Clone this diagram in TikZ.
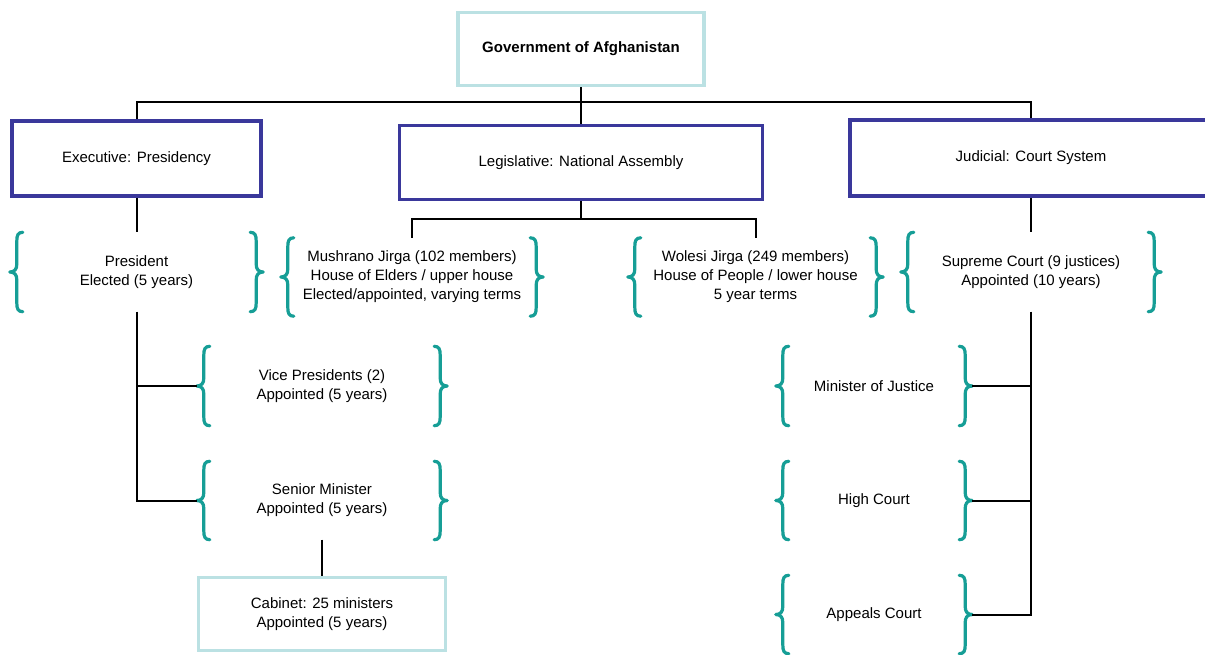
\documentclass[tikz,border=0pt]{standalone}
\usepackage{fontspec}
\setmainfont{Liberation Sans}
\usetikzlibrary{calc}
\definecolor{boxblue}{RGB}{58,56,155}
\definecolor{lightteal}{RGB}{187,225,227}
\definecolor{braceteal}{RGB}{22,158,150}
\newcommand\leftbr[1]{%
  \draw[bracestyle] ($(#1.north west)+(13,0)$) .. controls ($(#1.north west)+(8,0)$) and ($(#1.north west)+(7,3)$) .. ($(#1.north west)+(7,9)$)
    -- ($(#1.west)+(7,-8)$) .. controls ($(#1.west)+(7,-3)$) and ($(#1.west)+(5,0)$) .. (#1.west)
    .. controls ($(#1.west)+(5,0)$) and ($(#1.west)+(7,3)$) .. ($(#1.west)+(7,8)$)
    -- ($(#1.south west)+(7,-9)$) .. controls ($(#1.south west)+(7,-3)$) and ($(#1.south west)+(8,0)$) .. ($(#1.south west)+(13,0)$);}
\newcommand\rightbr[1]{%
  \draw[bracestyle] ($(#1.north east)+(-13,0)$) .. controls ($(#1.north east)+(-8,0)$) and ($(#1.north east)+(-7,3)$) .. ($(#1.north east)+(-7,9)$)
    -- ($(#1.east)+(-7,-8)$) .. controls ($(#1.east)+(-7,-3)$) and ($(#1.east)+(-5,0)$) .. (#1.east)
    .. controls ($(#1.east)+(-5,0)$) and ($(#1.east)+(-7,3)$) .. ($(#1.east)+(-7,8)$)
    -- ($(#1.south east)+(-7,-9)$) .. controls ($(#1.south east)+(-7,-3)$) and ($(#1.south east)+(-8,0)$) .. ($(#1.south east)+(-13,0)$);}
\begin{document}
\begin{tikzpicture}[x=1pt,y=-1pt,
  every node/.style={font=\fontsize{15}{19}\selectfont, align=center, inner sep=0pt},
  bluebox/.style={draw=boxblue, line width=3.5pt, rectangle},
  tealbox/.style={draw=lightteal, line width=3.5pt, rectangle},
  group/.style={rectangle},
  bracestyle/.style={draw=braceteal, line width=3.2pt, line cap=round, line join=round},
  conn/.style={draw=black, line width=2pt}]
\useasboundingbox (0,0) rectangle (1205,654);
\fill[white] (0,0) rectangle (1205,654);

% top boxes
\node[tealbox, minimum width=246pt, minimum height=73pt] (gov) at (581,49) {\textbf{Government of Afghanistan}};
\node[bluebox, minimum width=249pt, minimum height=75pt] (exec) at (136.5,158.5) {Executive: Presidency};
\node[bluebox, minimum width=363pt, minimum height=74pt] (leg) at (581,162.5) {Legislative: National Assembly};
\node[bluebox, minimum width=362pt, minimum height=76pt] (jud) at (1031,158) {Judicial: Court System};

% brace groups
\node[group, minimum width=253pt, minimum height=79pt] (pres) at (136.5,272) {President\\Elected (5 years)};
\node[group, minimum width=262pt, minimum height=78pt] (mush) at (412,277) {Mushrano Jirga (102 members)\\House of Elders / upper house\\Elected/appointed, varying terms};
\node[group, minimum width=255pt, minimum height=78pt] (wol) at (755.5,277) {Wolesi Jirga (249 members)\\House of People / lower house\\5 year terms};
\node[group, minimum width=260pt, minimum height=79pt] (sup) at (1031,272) {Supreme Court (9 justices)\\Appointed (10 years)};
\node[group, minimum width=250pt, minimum height=79pt] (vp) at (322,386) {Vice Presidents (2)\\Appointed (5 years)};
\node[group, minimum width=250pt, minimum height=78pt] (sen) at (322,500.5) {Senior Minister\\Appointed (5 years)};
\node[group, minimum width=196pt, minimum height=79pt] (moj) at (874,386) {Minister of Justice};
\node[group, minimum width=196pt, minimum height=78pt] (high) at (874,500.5) {High Court};
\node[group, minimum width=196pt, minimum height=78pt] (app) at (874,614.5) {Appeals Court};

\node[tealbox, minimum width=247pt, minimum height=73pt] (cab) at (322,614) {Cabinet: 25 ministers\\Appointed (5 years)};

\foreach \n in {pres,mush,wol,sup,vp,sen,moj,high,app}{\leftbr{\n}\rightbr{\n}}

% connectors
\coordinate (bus) at (581,102);
\coordinate (lbus) at (581,219);
\draw[conn] (gov.south) -- (leg.north);
\draw[conn] (exec.north) -- (exec.north |- bus) -- (jud.north |- bus) -- (jud.north);
\draw[conn] (exec.south) -- (pres.north);
\draw[conn] (pres.south) |- (sen.west);
\draw[conn] (pres.south |- vp.west) -- (vp.west);
\draw[conn] (sen.south) -- (cab.north);
\draw[conn] (leg.south) -- (lbus);
\draw[conn] (mush.north) -- (mush.north |- lbus) -- (wol.north |- lbus) -- (wol.north);
\draw[conn] (jud.south) -- (sup.north);
\draw[conn] (sup.south) |- (app.east);
\draw[conn] (sup.south |- moj.east) -- (moj.east);
\draw[conn] (sup.south |- high.east) -- (high.east);
\end{tikzpicture}
\end{document}
